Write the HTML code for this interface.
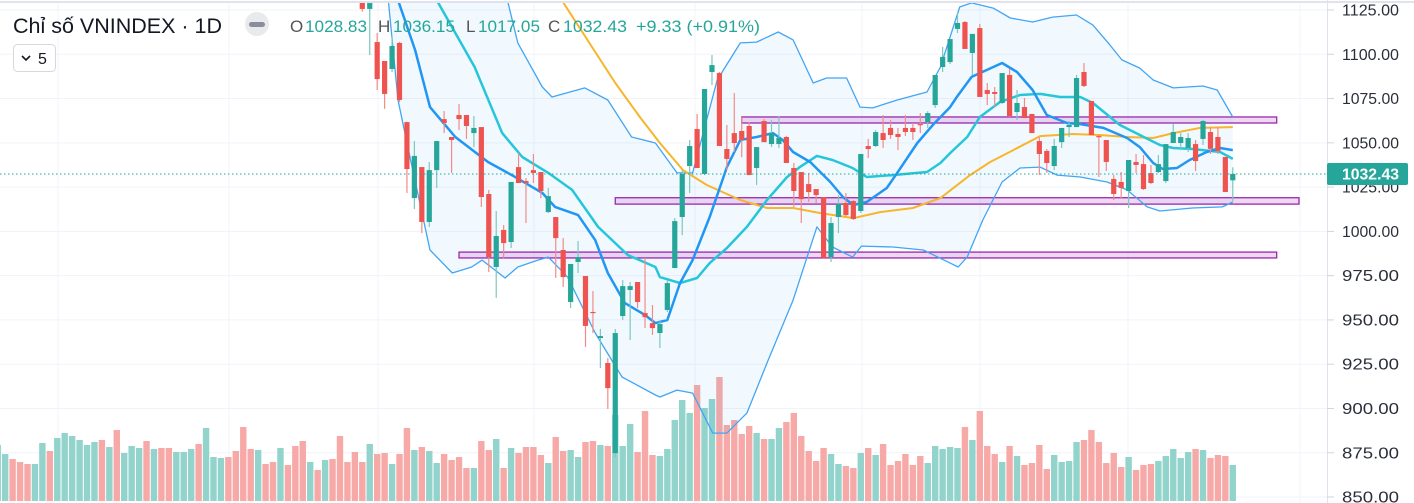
<!DOCTYPE html>
<html><head><meta charset="utf-8"><style>
html,body{margin:0;padding:0;background:#fff;}
svg{display:block;font-family:"Liberation Sans",sans-serif;}
</style></head><body>
<svg id="chart" width="1414" height="503" viewBox="0 0 1414 503" xmlns="http://www.w3.org/2000/svg">
<defs><clipPath id="plotclip"><rect x="0" y="3" width="1327" height="500"/></clipPath></defs>
<g id="grid"></g>
<g id="plot" clip-path="url(#plotclip)"></g>
<g id="axis"></g>
<g id="header">
<text x="13" y="33" font-size="21" fill="#131722" textLength="209" lengthAdjust="spacingAndGlyphs">Chỉ số VNINDEX · 1D</text>
<circle cx="257" cy="24" r="12" fill="#e9eaee"/>
<rect x="249" y="22" width="16" height="5" rx="2.5" fill="#8a8e99"/>
<text x="290" y="32" font-size="17" fill="#555">O</text>
<text x="305" y="32" font-size="17" fill="#26a69a" textLength="62" lengthAdjust="spacingAndGlyphs">1028.83</text>
<text x="378" y="32" font-size="17" fill="#555">H</text>
<text x="393" y="32" font-size="17" fill="#26a69a" textLength="62" lengthAdjust="spacingAndGlyphs">1036.15</text>
<text x="466" y="32" font-size="17" fill="#555">L</text>
<text x="478" y="32" font-size="17" fill="#26a69a" textLength="62" lengthAdjust="spacingAndGlyphs">1017.05</text>
<text x="548" y="32" font-size="17" fill="#555">C</text>
<text x="563" y="32" font-size="17" fill="#26a69a" textLength="64" lengthAdjust="spacingAndGlyphs">1032.43</text>
<text x="636" y="32" font-size="17" fill="#26a69a" textLength="124" lengthAdjust="spacingAndGlyphs">+9.33 (+0.91%)</text>
<rect x="13.5" y="44.5" width="42" height="27" rx="4" fill="#fff" stroke="#d6d8de"/>
<path d="M22 56 l4 4 l4 -4" fill="none" stroke="#131722" stroke-width="1.6"/>
<text x="38" y="64" font-size="16" fill="#131722">5</text>
</g>
</svg>
<script>
const open_=[1133.5,1125.6,1106.9,1096.2,1091.7,1106.4,1061.7,1018.8,1036.3,1005.3,1034.6,1063.4,1053.3,1065.7,1065.7,1055.5,1058.9,1021.1,979.9,1000.8,994.0,1036.3,1028.4,1034.6,1033.5,1010.9,1008.1,989.5,960.1,982.7,974.8,954.5,939.8,925.7,874.8,952.2,966.9,971.4,953.9,948.2,942.6,955.6,979.3,1008.1,1036.9,1057.8,1032.4,1090.0,1089.4,1046.5,1055.5,1056.7,1059.5,1035.8,1062.3,1049.3,1049.3,1053.3,1035.8,1033.5,1026.7,1023.9,1019.4,985.5,1008.1,1016.0,1017.1,1011.5,1048.2,1048.2,1055.5,1058.4,1055.0,1058.4,1058.4,1060.6,1061.7,1071.3,1092.8,1095.6,1114.3,1118.2,1100.7,1114.8,1079.8,1078.7,1072.5,1088.3,1067.4,1070.2,1066.3,1051.0,1045.4,1036.9,1050.4,1058.9,1058.9,1090.0,1073.6,1053.8,1051.6,1029.6,1027.9,1022.8,1039.2,1038.0,1032.9,1033.5,1028.4,1049.9,1049.9,1047.1,1049.3,1052.2,1056.1,1053.3,1042.0,1028.83];
const high_=[1140,1140,1112.0,1096.2,1110.3,1107,1062,1051.0,1036.3,1039.2,1051.0,1068.0,1053.3,1071.9,1065.7,1065.1,1058.9,1023.4,1011.5,1003.6,1027.9,1044.2,1030.1,1043.7,1033.5,1024.5,1008.1,996.2,981.6,994.6,974.8,966.3,944.9,928.5,944.9,972.5,971.4,971.4,985.0,958.4,949.9,972.5,1007.5,1034.6,1051.6,1066.3,1080.4,1099.6,1090.0,1060.1,1078.1,1064.6,1061.7,1047.6,1063.4,1062.9,1065.1,1053.8,1038.6,1033.5,1033.0,1023.9,1019.4,1008.1,1020.5,1021.7,1017.7,1043.7,1052.2,1057.2,1065.7,1062.9,1058.4,1065.7,1061.2,1066.8,1067.9,1088.3,1104.1,1108.6,1123.9,1118.8,1111.5,1117.1,1083.8,1081.5,1089.4,1091.7,1079.8,1075.3,1066.3,1053.3,1046.5,1052.2,1058.4,1062.3,1088.3,1095.1,1073.6,1054.4,1051.6,1031.8,1033.5,1040.3,1043.7,1043.1,1037.5,1043.1,1049.3,1060.6,1055.5,1055.5,1051.6,1062.9,1058.9,1058.9,1042.0,1036.15];
const low_=[1124,1099.6,1079.8,1069.2,1090.0,1073,1021.7,1012.6,999.0,1002.5,1024.5,1055.5,1033.0,1057.2,1052.2,1047.6,1013.8,977.0,962.4,984.4,990.6,1027.3,1004.7,1027.3,1018.8,1010.4,973.7,968.6,956.7,976.5,934.7,942.6,922.8,899.7,872.6,949.9,938.6,956.7,945.4,941.5,934.1,954.5,979.3,997.9,1021.7,1035.8,1031.8,1082.6,1048.2,1034.6,1044.8,1041.9,1031.8,1026.2,1050.4,1047.6,1047.1,1038.6,1013.8,1004.7,1016.6,1016.0,984.4,982.7,999.0,1008.6,1006.4,1010.4,1041.4,1047.6,1047.1,1052.2,1045.9,1053.8,1051.6,1055.5,1058.4,1069.7,1090.0,1094.5,1112.0,1103.0,1088.3,1075.9,1071.3,1070.2,1071.9,1064.6,1062.9,1064.0,1055.5,1031.8,1033.0,1034.6,1047.1,1053.3,1058.9,1081.5,1054.4,1030.7,1034.1,1017.7,1018.8,1013.2,1033.0,1023.4,1026.7,1032.9,1027.3,1049.9,1045.9,1044.8,1034.1,1048.8,1043.7,1043.7,1022.2,1017.05];
const close_=[1125.6,1135,1086.0,1077.6,1104.7,1074.2,1035.2,1042.6,1005.3,1034.6,1051.0,1061.2,1051.6,1063.4,1059.5,1058.4,1019.4,985.5,997.4,993.4,1027.9,1027.3,1027.3,1033.0,1022.8,1019.9,996.2,974.2,981.6,985.5,946.6,953.9,940.9,911.5,942.6,969.1,969.1,960.1,951.6,945.4,947.7,970.8,1005.8,1032.4,1048.2,1035.8,1080.4,1093.9,1048.2,1040.9,1049.9,1051.6,1031.8,1047.6,1050.4,1055.5,1052.7,1038.6,1022.8,1018.2,1022.2,1020.5,985.0,1004.7,1015.5,1009.2,1007.0,1043.7,1046.5,1056.1,1051.6,1054.4,1053.3,1056.1,1056.1,1060.1,1066.8,1088.3,1098.5,1108.6,1117.7,1103.0,1111.5,1075.9,1077.6,1077.6,1089.4,1065.1,1072.5,1064.0,1055.5,1043.7,1038.6,1048.2,1058.4,1060.1,1086.6,1082.1,1054.4,1053.3,1039.2,1021.1,1024.5,1040.3,1037.5,1023.9,1027.3,1038.0,1049.3,1056.1,1053.3,1052.7,1039.7,1062.3,1046.6,1045.4,1022.2,1032.43];
const volume_=[39,57,47,48,37,47,73,51,54,50,38,47,41,44,33,33,60,51,62,33,53,48,54,54,46,38,64,50,51,44,59,60,56,55,86,55,77,49,90,46,45,52,81,101,88,116,93,102,124,76,81,67,75,68,62,62,73,79,88,65,50,40,53,47,37,35,33,48,53,46,57,36,40,47,36,45,38,55,52,54,53,74,61,90,55,47,39,55,45,36,38,56,32,46,39,40,59,61,71,59,38,48,34,44,31,36,37,40,45,52,43,49,52,51,43,46,45,36];
const earlyVolume=[56,47,42,39,37,37,58,50,63,68,65,61,56,59,61,54,71,48,55,53,60,52,53,53,49,49,52,57,73,44,43,44,50,74,52,51,37,39,53,36,55,60,39,31,41,42,65,39,49];
const earlyUp=[1,1,0,0,0,1,1,0,1,1,1,1,1,1,0,1,0,1,1,1,0,1,0,0,1,1,1,0,1,1,1,0,0,0,0,1,0,0,1,0,0,0,1,0,1,0,0,0,0];
const priceTicks=[1125,1100,1075,1050,1025,1000,975,950,925,900,875,850];
const lastPrice=1032.43;
const maFastIdx=[4.8,7.1,9.1,12.5,16.9,20.1,24.2,25.9,29.0,31.3,33.0,35.3,38.0,39.4,41.0,42.7,44.4,46.7,49.0,50.8,53.0,55.2,56.5,57.9,60.2,62.9,64.6,66.0,67.8,70.5,71.9,74.6,76.7,79.0,79.9,81.9,86.0,88.0,90.1,92.0,94.7,96.5,99.6,102.8,104.5,106.3,107.6,109.5,111.2,113.5,115.3,117.0];
const maFastVal=[1130.6,1102.4,1070.2,1053.3,1039.2,1031.8,1021.7,1013.8,1009.2,995.1,976.5,959.5,952.8,948.2,949.9,970.8,983.8,1008.1,1036.3,1051.6,1053.3,1055.5,1051.6,1044.8,1039.2,1027.9,1019.4,1014.9,1016.6,1024.5,1033.0,1049.9,1060.1,1070.2,1075.9,1087.2,1095.1,1090.0,1079.8,1065.7,1061.2,1060.6,1058.4,1052.7,1047.6,1038.6,1035.2,1035.8,1040.3,1044.8,1047.1,1045.9];
const maMidIdx=[10.0,15.1,18.8,21.5,25.0,28.2,31.7,35.7,39.4,40.0,42.7,45.0,46.7,49.0,51.7,54.4,57.1,58.8,61.1,63.2,65.9,67.8,71.3,75.9,77.7,79.0,81.3,83.0,85.7,88.4,91.1,93.8,96.5,98.2,101.8,104.5,107.2,109.0,111.6,115.3,117.0];
const maMidVal=[1130.6,1092.8,1055.5,1042.0,1033.0,1023.4,1002.5,986.6,979.9,974.2,970.8,973.7,982.1,990.6,1002.5,1017.7,1030.7,1036.3,1042.6,1040.3,1035.8,1030.7,1031.8,1033.5,1038.6,1044.2,1053.3,1064.6,1073.0,1077.0,1077.6,1075.9,1075.9,1072.5,1060.1,1054.4,1048.8,1047.1,1046.5,1044.8,1040.9];
const maSlowIdx=[26.8,34.0,37.3,40.0,43.1,46.3,50.8,54.4,57.9,61.5,66.0,69.6,74.0,77.7,81.7,84.4,87.5,91.1,95.5,99.1,102.8,106.3,109.0,112.6,117.0];
const maSlowVal=[1130.6,1083.8,1064.6,1049.9,1034.6,1026.2,1017.7,1013.2,1013.2,1010.4,1007.5,1010.9,1013.2,1018.8,1031.8,1039.2,1045.9,1053.8,1055.0,1054.4,1053.3,1052.7,1055.5,1058.4,1058.9];
const bbUpperIdx=[-50,4,19.5,20.9,24.2,25.5,29.9,33.0,36.2,39.4,42.3,44.4,47.7,50.8,53.0,55.9,57.9,60.6,62.4,65.1,66.9,68.6,71.9,75.9,77.7,79.0,80.3,81.9,84.8,87.1,90.1,92.8,96.0,98.2,100.5,102.1,104.5,106.3,109.0,113.0,114.9,117.0];
const bbUpperVal=[1300,1300,1130.6,1106.4,1081.5,1075.9,1081.0,1074.2,1053.3,1049.9,1033.0,1033.0,1085.5,1106.4,1106.9,1112.6,1108.1,1083.8,1086.6,1086.6,1070.2,1069.7,1074.2,1078.7,1092.8,1109.8,1126.7,1129.0,1126.1,1120.5,1118.2,1121.0,1122.2,1116.5,1105.2,1096.8,1092.2,1085.5,1081.0,1082.1,1079.8,1064.6];
const bbLowerIdx=[-50,3.5,4.8,6.7,9.1,12.1,14.7,16.1,19.2,20.9,23.6,25.0,27.6,31.3,34.9,39.4,40.0,42.3,44.4,47.1,49.0,51.7,54.4,57.9,61.1,63.2,65.9,67.1,71.3,75.4,79.0,80.1,81.3,83.4,86.0,88.4,91.1,93.4,96.5,100.1,102.8,105.5,107.2,111.6,115.6,117.0];
const bbLowerVal=[1300,1130.6,1074.2,1036.3,989.5,976.5,979.9,983.8,973.7,979.9,983.8,985.5,974.2,942.6,917.8,907.6,906.5,910.4,908.7,886.1,886.1,897.4,925.7,961.2,1002.5,991.2,985.5,991.7,991.2,989.5,982.1,979.9,985.5,1006.4,1027.9,1035.8,1036.3,1031.8,1030.7,1027.9,1023.4,1013.8,1011.5,1013.2,1013.8,1016.6];
const zoneTop=[1064.6,1019.0,988.3];
const zoneBottom=[1061.2,1015.4,985.0];
const zoneStart=[51.0,34.0,13.0];
const zoneEnd=[122.9,125.9,122.9];

const NS='http://www.w3.org/2000/svg';
const X0=362.3, STEP=7.44;
function xAt(i){return X0+i*STEP;}
function yAt(p){return 10+(1125-p)*1.771;}
const VOL_BASE=501, VOL_PX=1.0;
function vY(v){return VOL_BASE-v*VOL_PX;}
function mk(tag,attrs,parent){const e=document.createElementNS(NS,tag);for(const k in attrs)e.setAttribute(k,attrs[k]);parent.appendChild(e);return e;}
const grid=document.getElementById('grid'),plot=document.getElementById('plot'),axis=document.getElementById('axis');

priceTicks.forEach(p=>{const l=mk('line',{x1:0,x2:1327,y1:yAt(p),y2:yAt(p),stroke:'#f0f3fa','stroke-width':1},grid);

});
[58,229,378,534,695,862,980,1128,1300].forEach(x=>{const l=mk('line',{x1:x,x2:x,y1:3,y2:503,stroke:'#f0f3fa','stroke-width':1},grid);

});
const tb=mk('line',{x1:0,x2:1414,y1:2,y2:2,stroke:'#e0e3eb','stroke-width':2},grid);



earlyVolume.forEach((v,k)=>{const i=k-earlyVolume.length;const r=mk('rect',{x:xAt(i)-3.2,y:vY(v),width:6.4,height:v*VOL_PX,fill:earlyUp[k]?'#92d3cc':'#f7a9a7'},plot);

});
volume_.forEach((v,i)=>{const up=close_[i]>=open_[i];const r=mk('rect',{x:xAt(i)-3.2,y:vY(v),width:6.4,height:v*VOL_PX,fill:up?'#92d3cc':'#f7a9a7'},plot);

});

function pts(ix,vs){return ix.map((i,k)=>xAt(i).toFixed(1)+','+yAt(vs[k]).toFixed(1));}
const up=pts(bbUpperIdx,bbUpperVal),lo=pts(bbLowerIdx,bbLowerVal).reverse();
const bf=mk('polygon',{points:up.concat(lo).join(' '),fill:'rgba(33,150,243,0.06)'},plot);



zoneTop.forEach((t,k)=>{const r=mk('rect',{x:xAt(zoneStart[k]),y:yAt(t),width:xAt(zoneEnd[k])-xAt(zoneStart[k]),height:yAt(zoneBottom[k])-yAt(t),fill:'rgba(206,147,216,0.35)',stroke:'#9c27b0','stroke-width':1.3},plot);

});

function line(ix,vs,color,w,name){const l=mk('polyline',{points:pts(ix,vs).join(' '),fill:'none',stroke:color,'stroke-width':w,'stroke-linejoin':'round'},plot);

}
line(bbUpperIdx,bbUpperVal,'#42a5f5',1.3,'bollinger-upper');
line(bbLowerIdx,bbLowerVal,'#42a5f5',1.3,'bollinger-lower');
line(maSlowIdx,maSlowVal,'#f7b52c',2,'ma-slow-line');
line(maMidIdx,maMidVal,'#26c6da',2.5,'ma-mid-line');
line(maFastIdx,maFastVal,'#2196f3',2.5,'ma-fast-line');

open_.forEach((o,i)=>{const c=close_[i],upc=c>=o,col=upc?'#26a69a':'#ef5350';const x=xAt(i);
const wk=mk('line',{x1:x,x2:x,y1:yAt(high_[i]),y2:yAt(low_[i]),stroke:upc?'#7cc7bf':'#f28b88','stroke-width':1.2},plot);


const top=yAt(Math.max(o,c)),bot=yAt(Math.min(o,c));
const b=mk('rect',{x:x-2.6,y:top,width:5.2,height:Math.max(1.2,bot-top),fill:col},plot);

});

const lp=mk('line',{x1:0,x2:1327,y1:yAt(lastPrice),y2:yAt(lastPrice),stroke:'#26a69a','stroke-width':1,'stroke-dasharray':'1.5,2.5'},plot);



const ab=mk('line',{x1:1327.5,x2:1327.5,y1:0,y2:503,stroke:'#e0e3eb','stroke-width':1},axis);


priceTicks.forEach(p=>{const t=mk('line',{x1:1327,x2:1334,y1:yAt(p),y2:yAt(p),stroke:'#d1d4dc','stroke-width':1},axis);


const tx=mk('text',{x:1342,y:yAt(p)+5.5,'font-size':15.5,fill:'#2a2e39',textLength:57,lengthAdjust:'spacingAndGlyphs'},axis);tx.textContent=p.toFixed(2);

});
const lb=mk('rect',{x:1327,y:yAt(lastPrice)-11,width:81,height:22,rx:2,fill:'#26a69a'},axis);


const lt=mk('text',{x:1342,y:yAt(lastPrice)+5.5,'font-size':15.5,'font-weight':'bold',fill:'#fff',textLength:57,lengthAdjust:'spacingAndGlyphs'},axis);lt.textContent=lastPrice.toFixed(2);


</script>
</body></html>
